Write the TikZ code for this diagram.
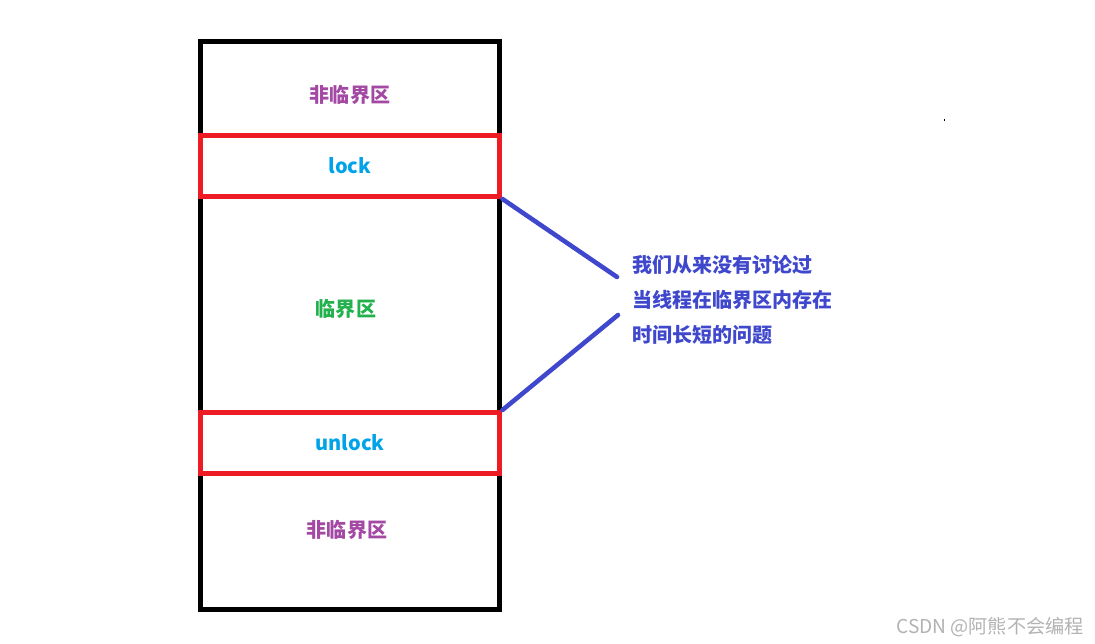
\documentclass[tikz,border=0pt]{standalone}
\usepackage{xcolor}
\usepackage{fontspec}
\setmainfont{Noto Sans CJK SC}
\usepackage{tikz}
\usetikzlibrary{positioning,calc}
\definecolor{zone}{HTML}{A349A4}
\definecolor{lockc}{HTML}{00A2E8}
\definecolor{crit}{HTML}{22B14C}
\definecolor{lockred}{HTML}{ED1C24}
\definecolor{note}{HTML}{3F48CC}

\begin{document}
\begin{tikzpicture}[x=0.02cm, y=-0.02cm, every node/.style={font=\fontsize{11.4}{19.9}\selectfont\bfseries}]
\useasboundingbox (0,0) rectangle (1095,644);
\node[rectangle, draw, line width=2.85pt, minimum width=6cm, minimum height=11.36cm, inner sep=0pt] (mem) at (350,325.5) {};
\node[text=zone] (nc1) at (350,95) {非临界区};
\node[text=crit] (cs) at (346,309) {临界区};
\node[text=zone] (nc2) at (347,530) {非临界区};
\node[rectangle, draw=lockred, line width=2.85pt, minimum width=6cm, minimum height=1.22cm, text=lockc] (lk) at (350,166) {lock};
\node[rectangle, draw=lockred, line width=2.85pt, minimum width=6cm, minimum height=1.22cm, text=lockc] (ulk) at (350,443) {unlock};
\node[anchor=west, align=left, text=note, inner sep=0pt] (q) at (632,300) {我们从来没有讨论过\\当线程在临界区内存在\\时间长短的问题};
\coordinate (t1) at (617,277);
\coordinate (t2) at (618,315);
\draw[note, line width=2.6pt, line cap=round] (lk.south east) -- (t1);
\draw[note, line width=2.6pt, line cap=round] (ulk.north east) -- (t2);
\fill (943.5,119.5) rectangle ++(1.5,1.5);
\node[font=\fontsize{10.9}{13}\selectfont, text=black!30] (wm) at (990,627) {CSDN @阿熊不会编程};
\end{tikzpicture}
\end{document}
